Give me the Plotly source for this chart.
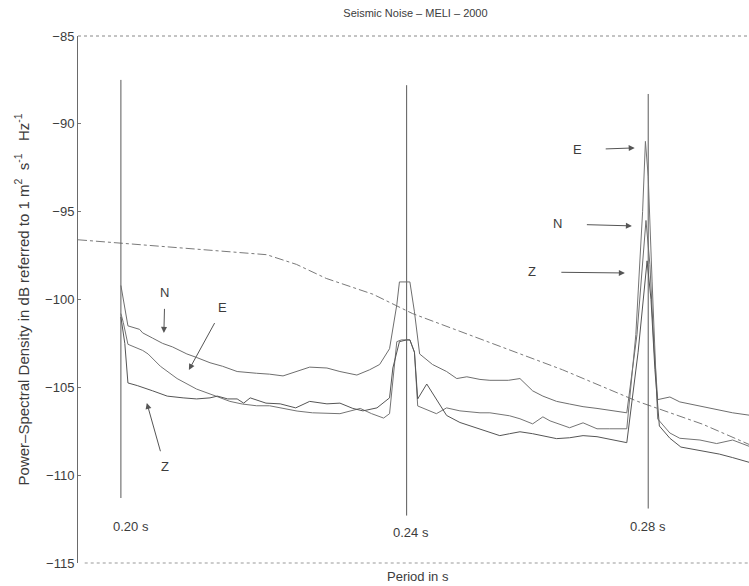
import math
import plotly.graph_objects as go

# Power spectral density (dB) versus period (s) for the three components
period_n = [0.2000, 0.2009, 0.2024, 0.2028, 0.2041, 0.2054, 0.2067, 0.2086, 0.2099, 0.2117,
            0.2134, 0.2154, 0.2181, 0.2199, 0.2218, 0.2238, 0.2256, 0.2281, 0.2300, 0.2325,
            0.2344, 0.2359, 0.2374, 0.2385, 0.2389, 0.2405, 0.2412, 0.2420, 0.2440, 0.2462,
            0.2478, 0.2494, 0.2515, 0.2531, 0.2561, 0.2580, 0.2601, 0.2618, 0.2641, 0.2663,
            0.2686, 0.2710, 0.2762, 0.2780, 0.2791, 0.2796, 0.2803, 0.2810, 0.2817, 0.2839,
            0.2857, 0.2894, 0.2925, 0.2955, 0.2990]
psd_n = [-99.2, -101.5, -101.7, -101.9, -102.2, -102.5, -102.7, -103.1, -103.3, -103.6,
         -103.8, -104.1, -104.2, -104.25, -104.35, -104.1, -103.85, -103.9, -104.1, -104.3,
         -104.0, -103.7, -102.8, -100.3, -99.0, -99.0, -100.7, -103.1, -103.7, -104.1,
         -104.5, -104.4, -104.55, -104.6, -104.6, -104.5, -105.2, -105.5, -105.8, -105.95,
         -106.1, -106.2, -106.45, -102.0, -97.5, -95.5, -98.0, -102.5, -105.7, -105.55,
         -105.83, -106.06, -106.28, -106.45, -106.6]

period_e = [0.2000, 0.2003, 0.2009, 0.2028, 0.2035, 0.2051, 0.2073, 0.2099, 0.2125, 0.2144,
            0.2161, 0.2181, 0.2199, 0.2218, 0.2238, 0.2260, 0.2300, 0.2330, 0.2347, 0.2365,
            0.2374, 0.2385, 0.2392, 0.2405, 0.2412, 0.2417, 0.2446, 0.2462, 0.2483, 0.2515,
            0.2531, 0.2563, 0.2580, 0.2601, 0.2618, 0.2630, 0.2663, 0.2686, 0.2710, 0.2732,
            0.2762, 0.2778, 0.2790, 0.2795, 0.2800, 0.2807, 0.2817, 0.2839, 0.2857, 0.2894,
            0.2925, 0.2955, 0.2990]
psd_e = [-100.8, -101.3, -102.55, -102.9, -103.1, -103.8, -104.5, -105.1, -105.5, -105.8,
         -105.95, -106.05, -106.05, -106.2, -106.35, -106.45, -106.5, -106.2, -106.5, -106.75,
         -106.5, -102.4, -102.3, -102.3, -103.0, -106.06, -106.5, -106.17, -106.34, -106.45,
         -106.45, -106.62, -106.79, -107.08, -106.68, -106.91, -107.3, -107.02, -107.36, -107.36,
         -107.36, -102.0, -95.0, -91.0, -93.0, -99.0, -106.8, -107.6, -107.9, -108.0,
         -108.2, -108.0, -108.4]

period_z = [0.2000, 0.2005, 0.2009, 0.2021, 0.2041, 0.2060, 0.2081, 0.2099, 0.2117, 0.2127,
            0.2141, 0.2154, 0.2163, 0.2172, 0.2194, 0.2214, 0.2236, 0.2256, 0.2281, 0.2300,
            0.2319, 0.2334, 0.2355, 0.2374, 0.2379, 0.2389, 0.2400, 0.2405, 0.2412, 0.2417,
            0.2431, 0.2446, 0.2462, 0.2483, 0.2526, 0.2547, 0.2563, 0.2580, 0.2601, 0.2618,
            0.2641, 0.2663, 0.2686, 0.2710, 0.2762, 0.2782, 0.2793, 0.2798, 0.2805, 0.2812,
            0.2820, 0.2839, 0.2859, 0.2894, 0.2930, 0.2955, 0.2990]
psd_z = [-101.0, -102.5, -104.75, -104.9, -105.2, -105.5, -105.6, -105.66, -105.6, -105.5,
         -105.66, -105.66, -105.9, -105.6, -105.9, -105.94, -106.17, -105.8, -105.94, -105.9,
         -106.2, -106.34, -106.17, -105.6, -103.9, -102.4, -102.3, -102.3, -103.0, -105.66,
         -104.81, -105.7, -106.6, -107.0, -107.5, -107.75, -107.64, -107.53, -107.64, -107.75,
         -107.92, -107.87, -107.75, -107.81, -108.15, -103.0, -99.5, -97.8, -100.0, -104.0,
         -107.2, -107.9, -108.4, -108.6, -108.8, -109.0, -109.3]

# Reference noise level (dash-dot)
period_ref = [0.1946, 0.2000, 0.2195, 0.2237, 0.2280, 0.2349, 0.2409, 0.2651, 0.2781, 0.2899, 0.2990]
psd_ref = [-96.6, -96.8, -97.45, -98.0, -98.8, -99.7, -100.8, -104.0, -105.8, -107.1, -108.3]

# Period markers: position, top and bottom of each vertical line
marker_periods = [0.20, 0.24, 0.28]
marker_top = [-87.5, -87.8, -88.3]
marker_bottom = [-111.3, -112.3, -111.9]
marker_labels = ["0.20 s", "0.24 s", "0.28 s"]

y_ticks = [-115, -110, -105, -100, -95, -90, -85]

FONT = "Liberation Sans, Arial, sans-serif"
TXT = "#3c3c3c"

fig = go.Figure()

fig.add_trace(go.Scatter(x=period_ref, y=psd_ref, mode="lines",
                         line=dict(color="#7a7a7a", width=1, dash="dashdot")))

for p, top, bot in zip(marker_periods, marker_top, marker_bottom):
    fig.add_trace(go.Scatter(x=[p, p], y=[top, bot], mode="lines",
                             line=dict(color="#5a5a5a", width=1)))

for px_, py_, col in [(period_n, psd_n, "#6e6e6e"),
                      (period_e, psd_e, "#747474"),
                      (period_z, psd_z, "#555555")]:
    fig.add_trace(go.Scatter(x=px_, y=py_, mode="lines",
                             line=dict(color=col, width=1)))

annotations = []

# Period marker labels
label_pos = [(0.2013, -112.95), (0.2407, -113.25), (0.2800, -112.95)]
for (lx, ly), txt in zip(label_pos, marker_labels):
    annotations.append(dict(x=math.log10(lx), y=ly, xref="x", yref="y", text=txt,
                            showarrow=False, font=dict(family=FONT, size=13, color=TXT)))

# Component labels with arrows: tip in data units, label offset in pixels
for txt, tx, ty, ax, ay, gap in [
        ("N", 0.20556, -101.90, 1, -40, 7),
        ("E", 0.20887, -104.01, 34, -62, 7),
        ("Z", 0.20334, -105.89, 18, 64, 7),
        ("E", 0.2776, -91.37, -57, 2, 22),
        ("N", 0.2771, -95.81, -74, -2, 23),
        ("Z", 0.27586, -98.49, -93, -1, 24)]:
    annotations.append(dict(x=math.log10(tx), y=ty, xref="x", yref="y", text=txt,
                            showarrow=True, ax=ax, ay=ay, arrowhead=2, arrowsize=1.2,
                            arrowwidth=1, arrowcolor="#555555", standoff=0,
                            startstandoff=gap,
                            font=dict(family=FONT, size=13, color=TXT)))

annotations += [
    dict(x=-0.0835, y=0.50, xref="paper", yref="paper", xanchor="center", yanchor="middle",
         textangle=-90,
         text="Power–Spectral Density in dB referred to 1 m<sup>2</sup>  s<sup>-1</sup>   Hz<sup>-1</sup>",
         showarrow=False, font=dict(family=FONT, size=15, color=TXT)),
    dict(x=0.507, y=-0.0247, xref="paper", yref="paper", yanchor="middle",
         text="Period in s", showarrow=False,
         font=dict(family=FONT, size=13, color=TXT)),
]

fig.update_layout(
    width=749, height=586,
    margin=dict(l=78, r=0, t=36, b=23),
    paper_bgcolor="white", plot_bgcolor="white",
    showlegend=False,
    title=dict(text="Seismic Noise – MELI – 2000", x=0.5547, xanchor="center",
               y=0.977, yanchor="middle", font=dict(family=FONT, size=11, color=TXT)),
    xaxis=dict(type="log", range=[math.log10(0.1946), math.log10(0.2986)],
               showticklabels=False, ticks="", showgrid=False, zeroline=False,
               showline=False),
    yaxis=dict(range=[-115, -85], tickvals=y_ticks, ticks="inside", ticklen=3,
               tickcolor="#777", showgrid=False, zeroline=False, showline=True,
               linecolor="#6a6a6a", linewidth=1,
               tickfont=dict(family=FONT, size=13, color=TXT)),
    annotations=annotations,
    shapes=[
        dict(type="line", xref="paper", yref="paper", x0=0, x1=1, y0=1, y1=1,
             line=dict(color="#888", width=1, dash="dot")),
        dict(type="line", xref="paper", yref="paper", x0=0.01, x1=1, y0=0, y1=0,
             line=dict(color="#999", width=1, dash="dot")),
    ],
)

fig.write_html("out.html")
